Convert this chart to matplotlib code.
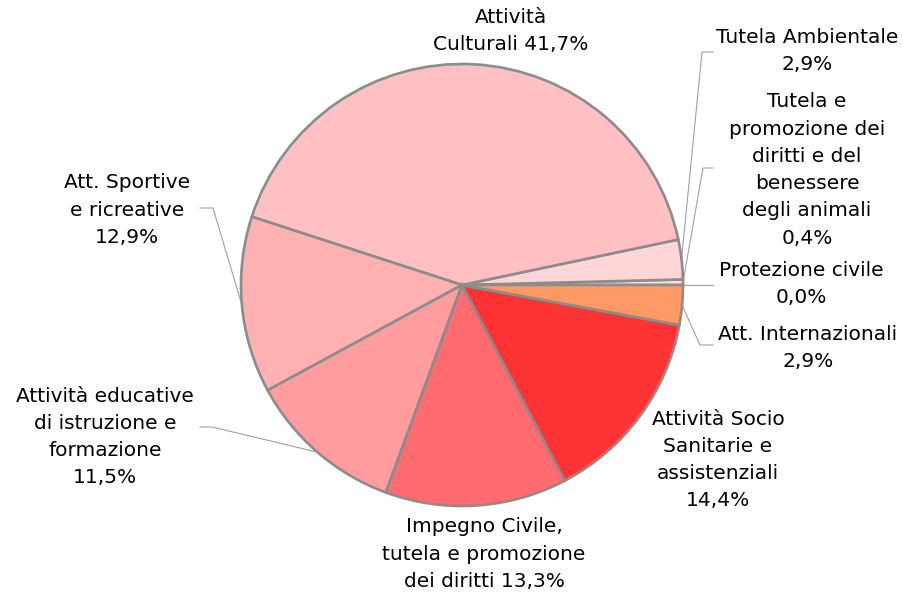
import numpy as np
import matplotlib
matplotlib.use('Agg')
import matplotlib.pyplot as plt

# categories in drawing order (counter-clockwise from 3 o'clock)
names = ['Protezione civile',
         'Tutela e\npromozione dei\ndiritti e del\nbenessere\ndegli animali',
         'Tutela Ambientale',
         'Attività\nCulturali',
         'Att. Sportive\ne ricreative',
         'Attività educative\ndi istruzione e\nformazione',
         'Impegno Civile,\ntutela e promozione\ndei diritti',
         'Attività Socio\nSanitarie e\nassistenziali',
         'Att. Internazionali']
values = [0.0, 0.4, 2.9, 41.7, 12.9, 11.5, 13.3, 14.4, 2.9]
pct_sep = ['\n', '\n', '\n', ' ', '\n', '\n', ' ', '\n', '\n']
colors = ['#FFE4E4', '#FFE0E2', '#FFD6D8', '#FFC0C4', '#FFB0B0',
          '#FF9C9E', '#FF6B6E', '#FF3333', '#FF9966']

H = 592
# label centres (pixels, y from top)
label_pos = [(801, 284), (807, 170), (807, 51), (511, 31), (127, 210),
             (105, 437), (484, 554), (718, 460), (808, 348)]
# leader lines: index -> (start point at label, elbow x)
leaders = {0: ((713, 285), 700), 1: ((713, 168), 703), 2: ((713, 52), 702),
           4: ((200, 208), 213), 5: ((200, 427), 212), 8: ((713, 345), 700)}

fig = plt.figure(figsize=(9.04, 5.92), dpi=100)
ax = fig.add_axes([0, 0, 1, 1])

cx, cy, r = 462, H - 285, 221
wedges, _ = ax.pie(values, colors=colors, startangle=0, counterclock=True,
                   center=(cx, cy), radius=r,
                   wedgeprops=dict(edgecolor='#8c8c8c', linewidth=1.9))

for i, w in enumerate(wedges):
    txt = names[i] + pct_sep[i] + f"{values[i]:.1f}".replace('.', ',') + '%'
    x, y = label_pos[i]
    ax.text(x, H - y, txt, ha='center', va='center', fontsize=14.5,
            linespacing=1.55, color='black', family='DejaVu Sans')
    if i in leaders:
        (sx, sy), ex = leaders[i]
        mid = np.deg2rad((w.theta1 + w.theta2) / 2)
        px, py = cx + r * np.cos(mid), cy + r * np.sin(mid)
        ax.plot([sx, ex, px], [H - sy, H - sy, py], color='#a0a0a0',
                linewidth=0.8, zorder=0.5)

ax.set_xlim(0, 904)
ax.set_ylim(0, H)
ax.set_aspect('equal')
ax.axis('off')
fig.savefig('out.png', dpi=100)
